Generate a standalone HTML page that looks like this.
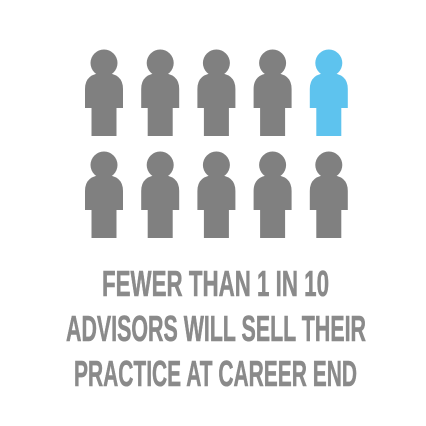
<!DOCTYPE html>
<html><head><meta charset="utf-8"><style>
html,body{margin:0;padding:0;background:#fff;}
svg{display:block;}
</style></head><body>
<svg width="426" height="426" viewBox="0 0 426 426">
<g id="icons"></g>
<g font-family="'Liberation Sans Narrow','Liberation Sans',sans-serif" font-weight="bold" font-size="36" fill="#8a8a8a" stroke="#8a8a8a" stroke-width="0.6">
<text x="102" y="296" textLength="227" lengthAdjust="spacingAndGlyphs">FEWER THAN 1 IN 10</text>
<text x="66" y="341" textLength="300" lengthAdjust="spacingAndGlyphs">ADVISORS WILL SELL THEIR</text>
<text x="74" y="386" textLength="283" lengthAdjust="spacingAndGlyphs">PRACTICE AT CAREER END</text>
</g>
</svg>
<script>
const total = [10];
const highlighted = [1];
const perRow = 5;
const g = document.getElementById('icons');
const NS = 'http://www.w3.org/2000/svg';
for (let i = 0; i < total[0]; i++) {
  const col = i % perRow, row = Math.floor(i / perRow);
  const cx = 104 + col * 56.2, cy = 63 + row * 102;
  const blue = row === 0 && col >= perRow - highlighted[0];
  const color = blue ? '#5ec3ee' : '#808080';
  const p = document.createElementNS(NS, 'g');
  
  
  p.setAttribute('fill', color);
  const head = document.createElementNS(NS, 'circle');
  head.setAttribute('cx', cx); head.setAttribute('cy', cy); head.setAttribute('r', 13.5);
  const body = document.createElementNS(NS, 'path');
  const t = cy + 10, s = cy + 45, f = cy + 73;
  body.setAttribute('d', `M${cx-19},${s} L${cx-19},${t+16} Q${cx-19},${t} ${cx},${t} Q${cx+19},${t} ${cx+19},${t+16} L${cx+19},${s} L${cx+12.5},${s} L${cx+12.5},${f} L${cx-12.5},${f} L${cx-12.5},${s} Z`);
  p.appendChild(head); p.appendChild(body);
  g.appendChild(p);
}
</script>
</body></html>
